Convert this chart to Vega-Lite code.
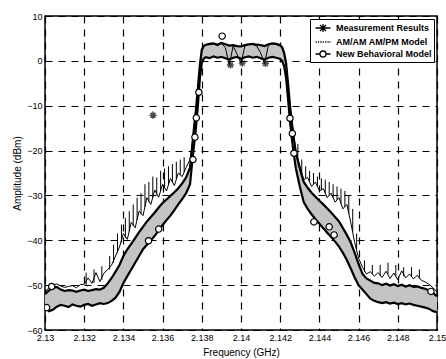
{
  "$schema": "https://vega.github.io/schema/vega-lite/v6.json",
  "width": 392,
  "height": 314,
  "autosize": "none",
  "padding": {"left": 45, "top": 16, "right": 9, "bottom": 29},
  "background": "white",
  "config": {
    "view": {"stroke": "black", "strokeWidth": 1.5},
    "font": "Liberation Sans",
    "axis": {
      "domain": false,
      "ticks": false,
      "grid": true,
      "gridColor": "black",
      "gridDash": [7, 6],
      "gridWidth": 1.2,
      "gridOpacity": 1,
      "labelFont": "Liberation Sans",
      "labelFontSize": 9,
      "labelColor": "black",
      "labelPadding": 3,
      "labelOverlap": false,
      "labelFlush": false,
      "titleFont": "Liberation Sans",
      "titleFontSize": 10,
      "titleFontWeight": "normal",
      "titleColor": "black"
    },
    "axisX": {"labelOverlap": false},
    "axisQuantitative": {"labelOverlap": false}
  },
  "datasets": {
    "band": [
      {"f": 2.1300, "lo": -55.0, "hi": -52.0, "m": -51.5},
      {"f": 2.1302, "lo": -55.8, "hi": -51.2, "m": -50.6},
      {"f": 2.1304, "lo": -55.5, "hi": -50.6, "m": -50.0},
      {"f": 2.1306, "lo": -54.8, "hi": -50.4, "m": -49.7},
      {"f": 2.1308, "lo": -54.4, "hi": -51.0, "m": -50.2},
      {"f": 2.1310, "lo": -54.6, "hi": -51.3, "m": -50.5},
      {"f": 2.1312, "lo": -54.9, "hi": -51.1, "m": -50.3},
      {"f": 2.1314, "lo": -54.3, "hi": -51.2, "m": -50.1},
      {"f": 2.1316, "lo": -54.6, "hi": -51.5, "m": -50.6},
      {"f": 2.1318, "lo": -54.8, "hi": -51.2, "m": -49.9},
      {"f": 2.1320, "lo": -54.4, "hi": -51.0, "m": -49.8},
      {"f": 2.1322, "lo": -54.2, "hi": -51.3, "m": -48.4},
      {"f": 2.1324, "lo": -54.6, "hi": -51.1, "m": -49.6},
      {"f": 2.1326, "lo": -54.3, "hi": -50.9, "m": -47.2},
      {"f": 2.1328, "lo": -54.0, "hi": -51.0, "m": -49.2},
      {"f": 2.1330, "lo": -54.2, "hi": -50.6, "m": -47.4},
      {"f": 2.1332, "lo": -54.0, "hi": -49.6, "m": -46.5},
      {"f": 2.1334, "lo": -53.5, "hi": -48.4, "m": -45.5},
      {"f": 2.1336, "lo": -52.8, "hi": -47.0, "m": -43.5},
      {"f": 2.1338, "lo": -51.5, "hi": -45.5, "m": -41.5},
      {"f": 2.1340, "lo": -49.5, "hi": -43.5, "m": -38.5},
      {"f": 2.1342, "lo": -48.0, "hi": -42.0, "m": -39.8},
      {"f": 2.1344, "lo": -46.5, "hi": -40.8, "m": -36.0},
      {"f": 2.1346, "lo": -45.0, "hi": -39.5, "m": -37.2},
      {"f": 2.1348, "lo": -43.5, "hi": -38.2, "m": -33.5},
      {"f": 2.1350, "lo": -42.0, "hi": -37.0, "m": -34.5},
      {"f": 2.1352, "lo": -41.0, "hi": -35.8, "m": -30.5},
      {"f": 2.1354, "lo": -40.0, "hi": -34.8, "m": -32.0},
      {"f": 2.1356, "lo": -39.0, "hi": -33.8, "m": -28.8},
      {"f": 2.1358, "lo": -37.8, "hi": -32.7, "m": -30.4},
      {"f": 2.1360, "lo": -36.6, "hi": -31.7, "m": -27.5},
      {"f": 2.1362, "lo": -35.5, "hi": -30.9, "m": -29.0},
      {"f": 2.1364, "lo": -34.5, "hi": -30.1, "m": -26.2},
      {"f": 2.1366, "lo": -33.3, "hi": -29.3, "m": -27.8},
      {"f": 2.1368, "lo": -32.0, "hi": -28.4, "m": -25.0},
      {"f": 2.1370, "lo": -30.8, "hi": -27.3, "m": -25.8},
      {"f": 2.1372, "lo": -29.5, "hi": -26.0, "m": -23.8},
      {"f": 2.1374, "lo": -27.5, "hi": -23.8, "m": -22.0},
      {"f": 2.1375, "lo": -23.0, "hi": -19.5, "m": -19.0},
      {"f": 2.1376, "lo": -19.0, "hi": -15.0, "m": -15.0},
      {"f": 2.1377, "lo": -15.0, "hi": -11.0, "m": -11.0},
      {"f": 2.1378, "lo": -10.0, "hi": -6.0, "m": -6.5},
      {"f": 2.1379, "lo": -4.0, "hi": -1.0, "m": -1.5},
      {"f": 2.1380, "lo": -0.5, "hi": 2.5, "m": 2.0},
      {"f": 2.1381, "lo": 0.5, "hi": 3.3, "m": 3.3},
      {"f": 2.1382, "lo": 0.8, "hi": 3.6, "m": 3.6},
      {"f": 2.1384, "lo": 0.6, "hi": 3.8, "m": 3.6},
      {"f": 2.1386, "lo": 1.0, "hi": 3.9, "m": 3.8},
      {"f": 2.1388, "lo": 0.7, "hi": 3.6, "m": 3.4},
      {"f": 2.1390, "lo": 0.9, "hi": 4.0, "m": 3.9},
      {"f": 2.1392, "lo": 0.6, "hi": 3.7, "m": 3.0},
      {"f": 2.1394, "lo": 0.3, "hi": 3.4, "m": -0.9},
      {"f": 2.1396, "lo": 0.7, "hi": 3.5, "m": 3.3},
      {"f": 2.1398, "lo": 0.9, "hi": 3.3, "m": 1.5},
      {"f": 2.1400, "lo": 0.4, "hi": 3.2, "m": -0.5},
      {"f": 2.1402, "lo": 0.8, "hi": 3.5, "m": 3.3},
      {"f": 2.1404, "lo": 1.0, "hi": 3.7, "m": 3.6},
      {"f": 2.1406, "lo": 0.7, "hi": 3.8, "m": 3.7},
      {"f": 2.1408, "lo": 0.9, "hi": 3.6, "m": 3.3},
      {"f": 2.1410, "lo": 0.6, "hi": 3.5, "m": 1.8},
      {"f": 2.1412, "lo": 0.3, "hi": 3.3, "m": -0.6},
      {"f": 2.1414, "lo": 0.7, "hi": 3.7, "m": 3.5},
      {"f": 2.1416, "lo": 0.9, "hi": 3.9, "m": 3.8},
      {"f": 2.1418, "lo": 0.7, "hi": 3.8, "m": 3.6},
      {"f": 2.1420, "lo": 0.4, "hi": 3.5, "m": 3.3},
      {"f": 2.1421, "lo": 0.0, "hi": 3.0, "m": 2.8},
      {"f": 2.1422, "lo": -1.2, "hi": 1.8, "m": 1.5},
      {"f": 2.1423, "lo": -3.8, "hi": -0.5, "m": -1.0},
      {"f": 2.1424, "lo": -8.5, "hi": -5.0, "m": -5.5},
      {"f": 2.1425, "lo": -13.5, "hi": -10.0, "m": -10.0},
      {"f": 2.1426, "lo": -17.5, "hi": -14.0, "m": -13.5},
      {"f": 2.1427, "lo": -21.0, "hi": -17.5, "m": -17.0},
      {"f": 2.1428, "lo": -24.0, "hi": -20.5, "m": -20.0},
      {"f": 2.1430, "lo": -28.0, "hi": -24.0, "m": -23.5},
      {"f": 2.1432, "lo": -31.5, "hi": -27.0, "m": -26.5},
      {"f": 2.1434, "lo": -33.0, "hi": -28.3, "m": -26.0},
      {"f": 2.1436, "lo": -34.2, "hi": -29.4, "m": -28.0},
      {"f": 2.1438, "lo": -35.3, "hi": -30.3, "m": -27.0},
      {"f": 2.1440, "lo": -36.3, "hi": -31.2, "m": -29.0},
      {"f": 2.1442, "lo": -37.3, "hi": -32.0, "m": -28.5},
      {"f": 2.1444, "lo": -38.3, "hi": -32.9, "m": -30.5},
      {"f": 2.1446, "lo": -39.3, "hi": -33.8, "m": -29.5},
      {"f": 2.1448, "lo": -40.3, "hi": -34.8, "m": -31.5},
      {"f": 2.1450, "lo": -41.4, "hi": -35.8, "m": -30.5},
      {"f": 2.1452, "lo": -42.8, "hi": -37.3, "m": -33.0},
      {"f": 2.1454, "lo": -44.4, "hi": -38.8, "m": -32.0},
      {"f": 2.1456, "lo": -46.3, "hi": -40.5, "m": -36.0},
      {"f": 2.1458, "lo": -48.3, "hi": -42.8, "m": -40.5},
      {"f": 2.1460, "lo": -50.0, "hi": -45.3, "m": -44.0},
      {"f": 2.1462, "lo": -51.0, "hi": -47.5, "m": -46.0},
      {"f": 2.1464, "lo": -52.0, "hi": -48.5, "m": -47.5},
      {"f": 2.1466, "lo": -53.0, "hi": -49.0, "m": -47.0},
      {"f": 2.1468, "lo": -53.5, "hi": -49.5, "m": -48.0},
      {"f": 2.1470, "lo": -53.8, "hi": -49.6, "m": -47.2},
      {"f": 2.1472, "lo": -54.0, "hi": -50.0, "m": -48.3},
      {"f": 2.1474, "lo": -53.8, "hi": -49.7, "m": -46.9},
      {"f": 2.1476, "lo": -54.1, "hi": -50.1, "m": -48.5},
      {"f": 2.1478, "lo": -53.9, "hi": -49.8, "m": -47.3},
      {"f": 2.1480, "lo": -54.2, "hi": -50.2, "m": -48.8},
      {"f": 2.1482, "lo": -54.0, "hi": -49.9, "m": -46.8},
      {"f": 2.1484, "lo": -54.3, "hi": -50.3, "m": -48.4},
      {"f": 2.1486, "lo": -54.1, "hi": -50.0, "m": -47.5},
      {"f": 2.1488, "lo": -54.4, "hi": -50.4, "m": -48.6},
      {"f": 2.1490, "lo": -54.6, "hi": -50.3, "m": -47.8},
      {"f": 2.1492, "lo": -54.8, "hi": -50.6, "m": -48.9},
      {"f": 2.1494, "lo": -55.0, "hi": -50.8, "m": -49.3},
      {"f": 2.1496, "lo": -55.3, "hi": -51.2, "m": -49.8},
      {"f": 2.1498, "lo": -55.8, "hi": -51.8, "m": -50.6},
      {"f": 2.1500, "lo": -56.0, "hi": -52.5, "m": -51.5}
    ],
    "spikes": [
      {"f": 2.1321, "b": -50.0, "t": -47.2},
      {"f": 2.1325, "b": -49.5, "t": -46.5},
      {"f": 2.1329, "b": -48.8, "t": -45.8},
      {"f": 2.1333, "b": -46.5, "t": -43.5},
      {"f": 2.1335, "b": -45.0, "t": -41.0},
      {"f": 2.1337, "b": -42.8, "t": -38.5},
      {"f": 2.1339, "b": -40.5, "t": -36.5},
      {"f": 2.1341, "b": -39.5, "t": -35.0},
      {"f": 2.1343, "b": -38.0, "t": -33.5},
      {"f": 2.1345, "b": -36.8, "t": -32.0},
      {"f": 2.1347, "b": -35.5, "t": -30.5},
      {"f": 2.1349, "b": -34.2, "t": -29.5},
      {"f": 2.1351, "b": -32.5, "t": -27.5},
      {"f": 2.1353, "b": -31.5, "t": -27.0},
      {"f": 2.1355, "b": -30.5, "t": -25.8},
      {"f": 2.1357, "b": -29.8, "t": -26.0},
      {"f": 2.1359, "b": -29.0, "t": -24.5},
      {"f": 2.1361, "b": -28.2, "t": -24.0},
      {"f": 2.1363, "b": -27.5, "t": -23.5},
      {"f": 2.1365, "b": -27.0, "t": -23.0},
      {"f": 2.1367, "b": -26.3, "t": -22.5},
      {"f": 2.1369, "b": -25.5, "t": -22.0},
      {"f": 2.1371, "b": -24.8, "t": -21.5},
      {"f": 2.1429, "b": -21.5, "t": -18.5},
      {"f": 2.1431, "b": -25.0, "t": -22.0},
      {"f": 2.1433, "b": -26.2, "t": -23.5},
      {"f": 2.1435, "b": -27.0, "t": -24.5},
      {"f": 2.1437, "b": -27.5, "t": -25.0},
      {"f": 2.1439, "b": -28.0, "t": -25.8},
      {"f": 2.1441, "b": -28.8, "t": -26.2},
      {"f": 2.1443, "b": -29.5, "t": -26.5},
      {"f": 2.1445, "b": -30.0, "t": -27.0},
      {"f": 2.1447, "b": -30.5, "t": -27.5},
      {"f": 2.1449, "b": -31.0, "t": -28.0},
      {"f": 2.1451, "b": -31.8, "t": -28.5},
      {"f": 2.1453, "b": -32.5, "t": -29.0},
      {"f": 2.1455, "b": -34.0, "t": -30.0},
      {"f": 2.1457, "b": -38.0, "t": -33.0},
      {"f": 2.1459, "b": -42.0, "t": -38.5},
      {"f": 2.1463, "b": -47.0, "t": -44.5},
      {"f": 2.1467, "b": -47.5, "t": -45.5},
      {"f": 2.1471, "b": -48.0, "t": -45.5},
      {"f": 2.1475, "b": -47.5, "t": -45.0},
      {"f": 2.1479, "b": -48.0, "t": -45.5},
      {"f": 2.1483, "b": -48.0, "t": -46.0},
      {"f": 2.1487, "b": -48.0, "t": -46.0},
      {"f": 2.1491, "b": -48.5, "t": -46.5}
    ],
    "circles": [
      {"f": 2.13034, "v": -50.3},
      {"f": 2.13008, "v": -55.0},
      {"f": 2.13528, "v": -40.1},
      {"f": 2.1358, "v": -37.5},
      {"f": 2.13755, "v": -22.0},
      {"f": 2.13765, "v": -17.0},
      {"f": 2.13772, "v": -12.7},
      {"f": 2.13785, "v": -7.0},
      {"f": 2.13904, "v": 5.5},
      {"f": 2.1425, "v": -12.8},
      {"f": 2.14262, "v": -16.2},
      {"f": 2.1427, "v": -20.6},
      {"f": 2.14372, "v": -35.9},
      {"f": 2.1445, "v": -37.0},
      {"f": 2.14475, "v": -38.8},
      {"f": 2.14969, "v": -51.4}
    ],
    "stars": [
      {"f": 2.13551, "v": -12.1},
      {"f": 2.13946, "v": -0.9},
      {"f": 2.14006, "v": -0.5},
      {"f": 2.14125, "v": -0.6}
    ],
    "legendrows": [
      {"s": "Measurement Results", "f": 2.14, "v": -20},
      {"s": "AM/AM AM/PM Model", "f": 2.14, "v": -20},
      {"s": "New Behavioral Model", "f": 2.14, "v": -20}
    ]
  },
  "encoding": {
    "x": {"field": "f", "type": "quantitative", "scale": {"domain": [2.13, 2.15], "nice": false, "zero": false},
      "axis": {"values": [2.13, 2.132, 2.134, 2.136, 2.138, 2.14, 2.142, 2.144, 2.146, 2.148, 2.15], "format": ".4~f", "labelOverlap": false, "labelBound": false, "title": "Frequency (GHz)", "titlePadding": 5}}
  },
  "layer": [
    {
      "data": {"name": "band"},
      "mark": {"type": "area", "color": "#c4c4c4", "clip": true},
      "encoding": {
        "y": {"field": "lo", "type": "quantitative", "scale": {"domain": [-60, 10], "nice": false, "zero": false},
          "axis": {"values": [-60, -50, -40, -30, -20, -10, 0, 10], "labelOverlap": false, "title": "Amplitude (dBm)", "titlePadding": 4}},
        "y2": {"field": "hi"}
      }
    },
    {
      "data": {"name": "band"},
      "mark": {"type": "line", "color": "black", "strokeWidth": 2.2, "clip": true},
      "encoding": {
        "y": {"field": "lo", "type": "quantitative"}
      }
    },
    {
      "data": {"name": "band"},
      "mark": {"type": "line", "color": "black", "strokeWidth": 2.2, "clip": true},
      "encoding": {
        "y": {"field": "hi", "type": "quantitative"}
      }
    },
    {
      "data": {"name": "band"},
      "mark": {"type": "line", "color": "black", "strokeWidth": 1, "clip": true},
      "encoding": {
        "y": {"field": "m", "type": "quantitative"}
      }
    },
    {
      "data": {"name": "spikes"},
      "mark": {"type": "rule", "color": "black", "strokeWidth": 1, "clip": true},
      "encoding": {
        "y": {"field": "b", "type": "quantitative"},
        "y2": {"field": "t"}
      }
    },
    {
      "data": {"name": "circles"},
      "mark": {"type": "point", "shape": "circle", "filled": false, "color": "black", "fill": "white", "fillOpacity": 1, "strokeWidth": 1.2, "size": 40, "clip": true},
      "encoding": {
        "y": {"field": "v", "type": "quantitative"}
      }
    },
    {
      "data": {"name": "stars"},
      "mark": {"type": "point", "shape": "M0,-1V1M-1,0H1M-0.7,-0.7L0.7,0.7M-0.7,0.7L0.7,-0.7", "filled": false, "color": "black", "strokeWidth": 1.5, "size": 50, "clip": true},
      "encoding": {
        "y": {"field": "v", "type": "quantitative"}
      }
    },
    {
      "data": {"name": "legendrows"},
      "mark": {"type": "point", "filled": false, "color": "black", "opacity": 0, "clip": true},
      "encoding": {
        "y": {"field": "v", "type": "quantitative"},
        "shape": {
          "field": "s",
          "type": "nominal",
          "scale": {
            "domain": ["Measurement Results", "AM/AM AM/PM Model", "New Behavioral Model"],
            "range": [
              "M-1.25,0H1.25M0,-0.65V0.65M-0.5,-0.5L0.5,0.5M-0.5,0.5L0.5,-0.5",
              "M-1.25,0H-1.05M-0.85,0H-0.65M-0.45,0H-0.25M-0.05,0H0.15M0.35,0H0.55M0.75,0H0.95M1.1,0H1.25",
              "M-1.25,0H-0.5M0.5,0H1.25M0.5,0A0.5,0.5 0 1,1 -0.5,0A0.5,0.5 0 1,1 0.5,0"
            ]
          },
          "legend": {
            "title": null,
            "orient": "top-right",
            "offset": 3,
            "padding": 2,
            "strokeColor": "black",
            "fillColor": "white",
            "symbolSize": 144,
            "symbolStrokeWidth": 1.3,
            "symbolStrokeColor": "black",
            "symbolFillColor": "transparent",
            "symbolOpacity": 1,
            "symbolOffset": 4,
            "labelFont": "Liberation Sans",
            "labelFontSize": 9,
            "labelFontWeight": "bold",
            "labelColor": "black",
            "labelOffset": 6,
            "rowPadding": 0
          }
        }
      }
    }
  ]
}
